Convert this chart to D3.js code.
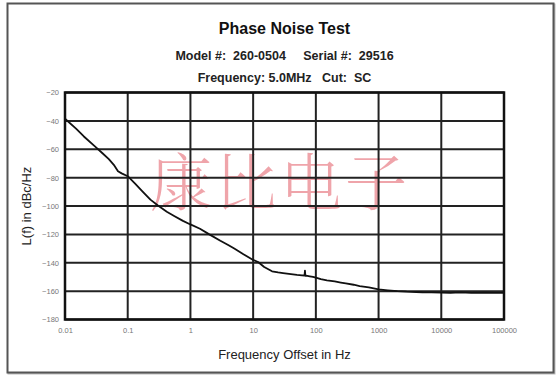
<!DOCTYPE html>
<html><head><meta charset="utf-8">
<script src="https://cdn.jsdelivr.net/npm/d3@7"></script>
<style>body{margin:0;background:#fff;}svg{display:block;}</style>
</head><body>
<script>
const title = "Phase Noise Test";
const subtitle1 = "Model #:\u00a0 260-0504\u00a0\u00a0\u00a0\u00a0 Serial #:\u00a0 29516";
const subtitle2 = "Frequency: 5.0MHz\u00a0\u00a0 Cut:\u00a0 SC";
const xLabel = "Frequency Offset in Hz";
const yLabel = "L(f) in dBc/Hz";
const watermark = "康比电子";
const xTicks = [0.01, 0.1, 1, 10, 100, 1000, 10000, 100000];
const xTickLabels = ["0.01", "0.1", "1", "10", "100", "1000", "10000", "100000"];
const yTicks = [-20, -40, -60, -80, -100, -120, -140, -160, -180];
const freq = [0.01, 0.015, 0.02, 0.03, 0.04, 0.05, 0.06, 0.07, 0.08, 0.1, 0.13, 0.17, 0.23, 0.3, 0.42, 0.55, 0.76, 1, 1.42, 2, 3, 4, 5, 7, 10, 12, 15, 20, 25, 30, 40, 50, 60, 66, 67, 68, 70, 80, 90, 100, 120, 150, 200, 250, 300, 400, 500, 700, 1000, 1400, 2000, 2800, 4000, 5000, 7000, 10000, 14000, 20000, 30000, 50000, 70000, 100000];
const noise = [-38.5, -45.5, -51, -58, -63, -67, -71, -75.5, -77, -79, -84, -89.5, -95.5, -99.5, -104, -107, -110.5, -113, -116, -120, -124.5, -127.5, -130, -134, -138, -139.5, -143, -146, -146.8, -147.3, -148, -148.6, -148.9, -149, -145.5, -149.2, -149.1, -149.6, -150, -150.5, -151.6, -152.4, -153.2, -154, -154.6, -155.5, -156.4, -157.4, -158.7, -159.4, -160, -160.4, -160.6, -160.8, -160.9, -161, -161.2, -160.9, -161.2, -161, -161.3, -161.2];

const W = 560, H = 382;
const svg = d3.select("body").append("svg").attr("width", W).attr("height", H)
  .style("font-family", "'Liberation Sans', Arial, sans-serif");

// outer frame
svg.append("rect").attr("x", 8.5).attr("y", 4.5).attr("width", 546).attr("height", 369)
  .attr("fill", "none").attr("stroke", "#bbb").attr("stroke-width", 2);
svg.append("rect").attr("x", 7.5).attr("y", 3.5).attr("width", 546).attr("height", 369)
  .attr("fill", "#fff").attr("stroke", "#555").attr("stroke-width", 2);

const m = {l: 65, r: 504, t: 92.5, b: 319.5};
const x = d3.scaleLog().domain([0.01, 100000]).range([m.l, m.r]);
const y = d3.scaleLinear().domain([-180, -20]).range([m.b, m.t]);

// titles
const cx = (m.l + m.r) / 2;
svg.append("text").attr("x", cx).attr("y", 34).attr("text-anchor", "middle")
  .attr("font-size", 16).attr("font-weight", "bold").attr("fill", "#111").text(title);
svg.append("text").attr("x", cx).attr("y", 60).attr("text-anchor", "middle")
  .attr("font-size", 12.5).attr("font-weight", "bold").attr("fill", "#222").text(subtitle1);
svg.append("text").attr("x", cx).attr("y", 82).attr("text-anchor", "middle")
  .attr("font-size", 12.5).attr("font-weight", "bold").attr("fill", "#222").text(subtitle2);

// watermark
svg.append("text").attr("x", 280).attr("y", 206).attr("text-anchor", "middle")
  .attr("font-family", "'Noto Serif CJK SC', 'Noto Sans CJK SC', serif")
  .attr("font-size", 62).attr("font-weight", 300).attr("letter-spacing", 3)
  .attr("fill", "rgba(225,90,100,0.55)").text(watermark);

// grid
const grid = svg.append("g").attr("stroke", "#222").attr("stroke-width", 2);
xTicks.forEach(t => grid.append("line").attr("x1", x(t)).attr("x2", x(t)).attr("y1", m.t).attr("y2", m.b));
yTicks.forEach(t => grid.append("line").attr("x1", m.l).attr("x2", m.r).attr("y1", y(t)).attr("y2", y(t)));
svg.append("rect").attr("x", m.l).attr("y", m.t).attr("width", m.r - m.l).attr("height", m.b - m.t)
  .attr("fill", "none").attr("stroke", "#111").attr("stroke-width", 2.5);

// axes tick labels
const yAxis = d3.axisLeft(y).tickValues(yTicks).tickSize(0).tickPadding(6);
const gy = svg.append("g").attr("transform", `translate(${m.l},0)`).call(yAxis);
gy.select(".domain").remove();
gy.selectAll("text").attr("font-size", 7.5).attr("fill", "#777").attr("font-family", "'Liberation Sans', Arial, sans-serif");

const xAxis = d3.axisBottom(x).tickValues(xTicks).tickFormat((d, i) => xTickLabels[i]).tickSize(0).tickPadding(8);
const gx = svg.append("g").attr("transform", `translate(0,${m.b})`).call(xAxis);
gx.select(".domain").remove();
gx.selectAll("text").attr("font-size", 7.5).attr("fill", "#777").attr("font-family", "'Liberation Sans', Arial, sans-serif");

// axis titles
svg.append("text").attr("x", cx).attr("y", 359).attr("text-anchor", "middle")
  .attr("font-size", 13).attr("fill", "#222").text(xLabel);
svg.append("text").attr("transform", `translate(31,${(m.t + m.b) / 2}) rotate(-90)`).attr("text-anchor", "middle")
  .attr("font-size", 13).attr("fill", "#222").text(yLabel);

// curve
const data = freq.map((f, i) => ({f, v: noise[i]}));
svg.append("path").datum(data)
  .attr("fill", "none").attr("stroke", "#111").attr("stroke-width", 1.8).attr("stroke-linejoin", "round")
  .attr("d", d3.line().x(d => x(d.f)).y(d => y(d.v)));
</script>
</body></html>
